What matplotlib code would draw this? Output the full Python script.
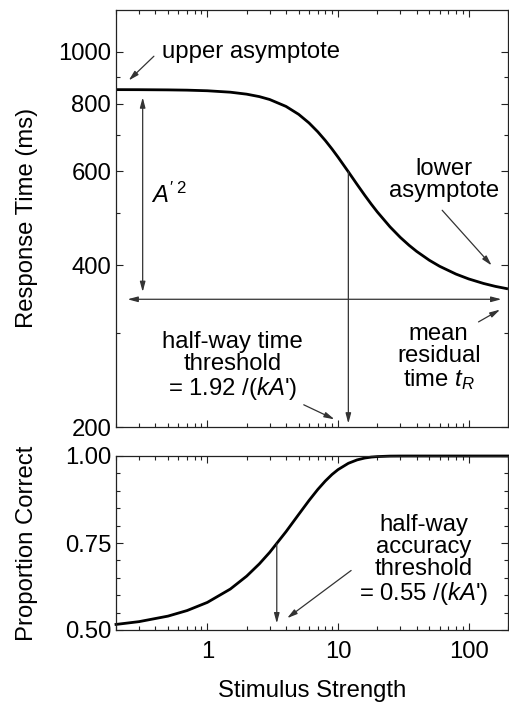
import matplotlib
matplotlib.use("Agg")
import matplotlib.pyplot as plt
from matplotlib.ticker import FixedLocator, NullFormatter, FixedFormatter

plt.rcParams['font.family'] = ['Liberation Sans', 'DejaVu Sans']
plt.rcParams['mathtext.fontset'] = 'custom'
plt.rcParams['mathtext.rm'] = 'Liberation Sans'
plt.rcParams['mathtext.it'] = 'Liberation Sans:italic'

# ---- data ----
strength = [0.2, 0.3, 0.5, 0.7, 1, 1.5, 2, 2.5, 3, 4, 5, 6, 7, 8, 9, 10, 12, 14,
            16, 18, 20, 25, 30, 35, 40, 50, 60, 80, 100, 130, 160, 200]
rt_ms = [850.8, 850.6, 849.9, 848.9, 846.7, 841.5, 834.4, 825.7, 815.5, 791.7,
         765.2, 737.5, 710.0, 683.8, 659.4, 636.9, 598.0, 566.4, 540.9, 520.2,
         503.3, 472.2, 451.2, 436.2, 424.9, 409.1, 398.6, 385.5, 377.6, 370.3,
         365.7, 361.8]
p_correct = [0.5160, 0.5240, 0.5399, 0.5559, 0.5793, 0.6177, 0.6548, 0.6900,
             0.7231, 0.7825, 0.8320, 0.8721, 0.9038, 0.9282, 0.9469, 0.9608,
             0.9790, 0.9888, 0.9941, 0.9969, 0.9983, 0.9997, 0.99995, 1.0, 1.0,
             1.0, 1.0, 1.0, 1.0, 1.0, 1.0, 1.0]

rt_major = [200, 400, 600, 800, 1000]
rt_minor = [300, 500, 700, 900]
pc_major = [0.50, 0.75, 1.00]
pc_major_labels = ['0.50', '0.75', '1.00']
pc_minor = [0.55, 0.60, 0.65, 0.70, 0.80, 0.85, 0.90, 0.95]
x_major = [1, 10, 100]
x_major_labels = ['1', '10', '100']

upper_asym = 851
resid_time = 346
time_threshold = 12
acc_threshold = 3.4

W, H = 509, 702
fig = plt.figure(figsize=(W / 100, H / 100), dpi=100)
L, R = 116 / W, 508 / W
ax1 = fig.add_axes([L, 1 - 427 / H, R - L, (427 - 9.5) / H])
ax2 = fig.add_axes([L, 1 - 630 / H, R - L, (630 - 456) / H])

FS = 17.2
ink = '#222222'
thin = '#333333'

for ax in (ax1, ax2):
    ax.set_xscale('log')
    ax.set_xlim(0.2, 200)
    for s in ax.spines.values():
        s.set_linewidth(0.9)
        s.set_color(ink)
    ax.tick_params(which='both', direction='in', top=True, right=True,
                   colors=ink, labelsize=FS, labelcolor='black', width=0.8)
    ax.tick_params(which='major', length=5)
    ax.tick_params(which='minor', length=3)
    ax.xaxis.set_major_locator(FixedLocator(x_major))

# ---- top panel ----
ax1.set_yscale('log')
ax1.set_ylim(200, 1200)
ax1.yaxis.set_major_locator(FixedLocator(rt_major))
ax1.yaxis.set_major_formatter(FixedFormatter([str(v) for v in rt_major]))
ax1.yaxis.set_minor_locator(FixedLocator(rt_minor))
ax1.yaxis.set_minor_formatter(NullFormatter())
ax1.xaxis.set_major_formatter(NullFormatter())
ax1.xaxis.set_minor_formatter(NullFormatter())
ax1.plot(strength, rt_ms, color='black', lw=2.0, solid_capstyle='butt')
ax1.set_ylabel('Response Time (ms)', fontsize=FS)

arrow_kw = dict(arrowstyle='-|>,head_length=0.6,head_width=0.16', color=thin,
                lw=0.9, shrinkA=0, shrinkB=0)
dbl_kw = dict(arrowstyle='<|-|>,head_length=0.6,head_width=0.16', color=thin,
              lw=0.9, shrinkA=0, shrinkB=0)

ax1.text(0.45, 1000, 'upper asymptote', fontsize=FS, va='center', ha='left')
ax1.annotate('', xy=(0.25, 885), xytext=(0.39, 982), arrowprops=arrow_kw)

ax1.annotate('', xy=(0.32, 823), xytext=(0.32, 357), arrowprops=dbl_kw)
ax1.text(0.37, 541, r"$A'^{\,2}$", fontsize=FS, va='center', ha='left')

ax1.annotate('', xy=(0.245, resid_time), xytext=(178, resid_time), arrowprops=dbl_kw)

ax1.annotate('', xy=(time_threshold, 203), xytext=(time_threshold, 598),
             arrowprops=arrow_kw)

ax1.text(1.56, 259, "half-way time\nthreshold\n= 1.92 /(" + r"$kA$" + "')",
         fontsize=FS, ha='center', va='center', linespacing=1.0)
ax1.annotate('', xy=(9.4, 206.7), xytext=(5.47, 220), arrowprops=arrow_kw)

ax1.text(64.5, 577, 'lower\nasymptote', fontsize=FS, ha='center', va='center',
         linespacing=1.0)
ax1.annotate('', xy=(150, 400), xytext=(62.7, 507), arrowprops=arrow_kw)

ax1.text(59, 270, "mean\nresidual\ntime " + r"$t_{R}$", fontsize=FS,
         ha='center', va='center', linespacing=1.0)
ax1.annotate('', xy=(174, 331), xytext=(119, 314), arrowprops=arrow_kw)

# ---- bottom panel ----
ax2.set_ylim(0.5, 1.0)
ax2.yaxis.set_major_locator(FixedLocator(pc_major))
ax2.yaxis.set_major_formatter(FixedFormatter(pc_major_labels))
ax2.yaxis.set_minor_locator(FixedLocator(pc_minor))
ax2.xaxis.set_major_formatter(FixedFormatter(x_major_labels))
ax2.xaxis.set_minor_formatter(NullFormatter())
ax2.plot(strength, p_correct, color='black', lw=2.0, clip_on=False)
ax2.set_ylabel('Proportion Correct', fontsize=FS)
ax2.set_xlabel('Stimulus Strength', fontsize=FS, labelpad=12)
ax2.tick_params(axis='x', which='major', pad=8)

ax2.annotate('', xy=(acc_threshold, 0.519), xytext=(acc_threshold, 0.748),
             arrowprops=arrow_kw)
ax2.text(45.5, 0.699, "half-way\naccuracy\nthreshold\n= 0.55 /(" + r"$kA$" + "')",
         fontsize=FS, ha='center', va='center', linespacing=1.0)
ax2.annotate('', xy=(4.08, 0.534), xytext=(12.6, 0.671), arrowprops=arrow_kw)

# align y labels
ax1.yaxis.set_label_coords(-0.20, 0.5)
ax2.yaxis.set_label_coords(-0.20, 0.5)

fig.savefig('out.png', dpi=100)
